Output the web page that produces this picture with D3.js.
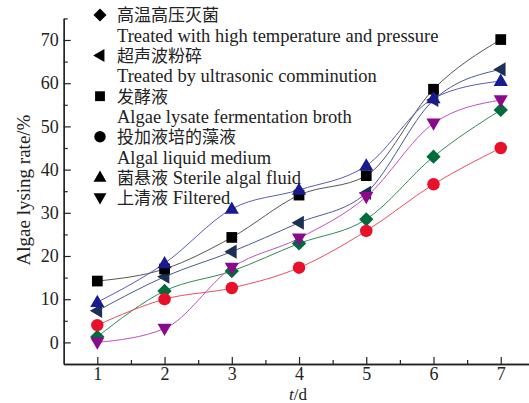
<!DOCTYPE html>
<html>
<head>
<meta charset="utf-8">
<script src="https://cdn.jsdelivr.net/npm/d3@7"></script>
<style>
  body { margin: 0; background: #fff; }
  text { font-family: "Liberation Serif", "Times New Roman", serif; fill: #222; }
  .zh { font-family: "Noto Sans CJK SC", sans-serif; }
</style>
</head>
<body>
<div id="chart"></div>
<script>
// days
var days = [1, 2, 3, 4, 5, 6, 7];

// lysing rate (%) per treatment
var highTemp   = [1.3, 11.9, 16.5, 22.9, 28.5, 43.0, 53.8];
var ultrasonic = [7.3, 15.2, 21.0, 27.7, 34.6, 56.1, 63.2];
var fermBroth  = [14.2, 17.0, 24.3, 34.1, 38.6, 58.6, 70.1];
var algalMed   = [4.0, 10.0, 12.6, 17.3, 25.8, 36.6, 45.0];
var sterile    = [9.3, 18.3, 30.9, 35.3, 40.9, 56.5, 60.5];
var filtered   = [0.0, 3.2, 17.3, 24.1, 33.7, 50.7, 56.1];

var yTicks = [0, 10, 20, 30, 40, 50, 60, 70];
var yMinor = [5, 15, 25, 35, 45, 55, 65, 75];
var xMinor = [1.5, 2.5, 3.5, 4.5, 5.5, 6.5];

var legendZh = ['高温高压灭菌', '超声波粉碎', '发酵液', '投加液培的藻液', '菌悬液', '上清液'];
var legendEn = ['Treated with high temperature and pressure', 'Treated by ultrasonic comminution',
  'Algae lysate fermentation broth', 'Algal liquid medium', 'Sterile algal fluid', 'Filtered'];

var series = [
  { vals: highTemp,   sym: 'diamond', fill: '#006b3c', line: '#2e8b57' },
  { vals: ultrasonic, sym: 'left',    fill: '#1c2f55', line: '#4a5a90' },
  { vals: fermBroth,  sym: 'square',  fill: '#000000', line: '#555555' },
  { vals: algalMed,   sym: 'circle',  fill: '#e8102a', line: '#e8505a' },
  { vals: sterile,    sym: 'up',      fill: '#1a1a90', line: '#5a5ac0' },
  { vals: filtered,   sym: 'down',    fill: '#8b0a8b', line: '#c050c0' }
];

var width = 529, height = 403;

var x = d3.scaleLinear().domain([0.5, 7.45]).range([63.7, 531]);
var y = d3.scaleLinear().domain([-5, 75]).range([364, 18.4]);

var svg = d3.select('#chart').append('svg')
  .attr('width', width).attr('height', height);

function marker(g, sym, s, color) {
  var p;
  if (sym === 'diamond') p = d3.symbol(d3.symbolDiamond2, s * s * 0.9)();
  else if (sym === 'square') p = d3.symbol(d3.symbolSquare, s * s * 0.8)();
  else if (sym === 'circle') p = d3.symbol(d3.symbolCircle, s * s * 0.85)();
  else {
    var r = s * 0.62;
    var tri = [[0, -r], [r * 0.95, r * 0.65], [-r * 0.95, r * 0.65]];
    var rot = { up: 0, down: 180, left: -90 }[sym];
    p = 'M' + tri.map(function(q) {
      var a = rot * Math.PI / 180;
      return [q[0] * Math.cos(a) - q[1] * Math.sin(a), q[0] * Math.sin(a) + q[1] * Math.cos(a)];
    }).join('L') + 'Z';
  }
  g.append('path').attr('d', p).attr('fill', color);
}

// curves
var line = d3.line()
  .x(function(d, i) { return x(days[i]); })
  .y(function(d) { return y(d); })
  .curve(d3.curveMonotoneX);

series.forEach(function(s) {
  svg.append('path').datum(s.vals)
    .attr('d', line).attr('fill', 'none')
    .attr('stroke', s.line).attr('stroke-width', 1);
});
series.forEach(function(s) {
  s.vals.forEach(function(v, i) {
    var g = svg.append('g').attr('transform', 'translate(' + x(days[i]) + ',' + y(v) + ')');
    marker(g, s.sym, 12, s.fill);
  });
});

// axes
svg.append('g').attr('transform', 'translate(63.7,0)')
  .call(d3.axisLeft(y).tickValues(yTicks).tickSize(-7).tickSizeOuter(0).tickPadding(5).tickFormat(d3.format('d')));
svg.append('g').attr('transform', 'translate(63.7,0)')
  .call(d3.axisLeft(y).tickValues(yMinor).tickSize(-4).tickSizeOuter(0).tickFormat(''));
svg.append('g').attr('transform', 'translate(0,364)')
  .call(d3.axisBottom(x).tickValues(days).tickSize(-7).tickSizeOuter(0).tickPadding(3).tickFormat(d3.format('d')));
svg.append('g').attr('transform', 'translate(0,364)')
  .call(d3.axisBottom(x).tickValues(xMinor).tickSize(-4).tickSizeOuter(0).tickFormat(''));

svg.selectAll('.domain').attr('stroke', '#222').attr('stroke-width', 1.3);
svg.selectAll('.tick line').attr('stroke', '#222').attr('stroke-width', 1.2);
svg.selectAll('.tick text').style('font-family', '"Liberation Serif", serif')
  .style('font-size', '18px').attr('fill', '#222');

// axis titles
svg.append('text').attr('transform', 'translate(23,190) rotate(-90)')
  .attr('text-anchor', 'middle').attr('dy', '0.35em').style('font-size', '19px').text('Algae lysing rate/%');
var xt = svg.append('text').attr('x', 298).attr('y', 400)
  .attr('text-anchor', 'middle').style('font-size', '17px');
xt.append('tspan').style('font-style', 'italic').text('t');
xt.append('tspan').text('/d');

// legend
var rows = [];
legendZh.forEach(function(zh, i) {
  if (i < 4) { rows.push({ zh: zh, en: null, sym: series[i].sym }); rows.push({ zh: null, en: legendEn[i] }); }
  else rows.push({ zh: zh, en: legendEn[i], sym: series[i].sym });
});
rows.forEach(function(r, i) {
  var cy = 15 + i * 20.3;
  if (r.sym) {
    var g = svg.append('g').attr('transform', 'translate(100,' + cy + ')');
    marker(g, r.sym, 11, '#000');
  }
  var t = svg.append('text').attr('x', 117).attr('y', cy).attr('dy', '0.35em')
    .style('font-size', '18.5px');
  if (r.zh) t.append('tspan').attr('class', 'zh').style('font-size', '17px').text(r.zh);
  if (r.en) t.append('tspan').text((r.zh ? ' ' : '') + r.en);
});
</script>
</body>
</html>
